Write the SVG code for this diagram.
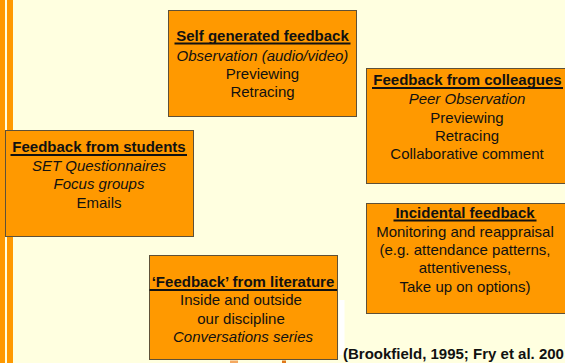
<svg xmlns="http://www.w3.org/2000/svg" width="565" height="363" viewBox="0 0 565 363">
  <style>
    .box { fill: #FF9900; stroke: #5E5138; stroke-width: 1; }
    .bar { fill: #FF9900; }
    text { font-family: "Liberation Sans", Arial, sans-serif; font-size: 15px; fill: #111111; text-anchor: middle; }
    .title { font-weight: bold; }
    .it { font-style: italic; }
    .ul { stroke: #111111; stroke-width: 2; }
    .cite { font-weight: bold; font-size: 15px; text-anchor: start; }
  </style>

  <!-- page background and left margin stripes -->
  <rect x="0" y="0" width="565" height="363" fill="#FFFFE0"/>
  <rect class="bar" x="0" y="0" width="5" height="363"/>
  <rect class="bar" x="7" y="0" width="6" height="363"/>

  <!-- Self generated feedback -->
  <g id="self-generated">
    <rect class="box" x="168.5" y="10.5" width="188" height="106"/>
    <text class="title" x="262.5" y="41">Self generated feedback</text>
    <line class="ul" x1="174.5" y1="43.5" x2="350.5" y2="43.5"/>
    <text class="it" x="262.5" y="60.5">Observation (audio/video)</text>
    <text x="262.5" y="78.8">Previewing</text>
    <text x="262.5" y="97.1">Retracing</text>
  </g>

  <!-- Feedback from colleagues -->
  <g id="colleagues">
    <rect class="box" x="366.5" y="68.5" width="210" height="115"/>
    <text class="title" x="467.5" y="85">Feedback from colleagues</text>
    <line class="ul" x1="372" y1="88" x2="563" y2="88"/>
    <text class="it" x="467" y="104.3">Peer Observation</text>
    <text x="467" y="122.6">Previewing</text>
    <text x="467" y="140.9">Retracing</text>
    <text x="467" y="159.2">Collaborative comment</text>
  </g>

  <!-- Feedback from students -->
  <g id="students">
    <rect class="box" x="5.5" y="130.5" width="188" height="106"/>
    <text class="title" x="99" y="152.3">Feedback from students</text>
    <line class="ul" x1="10.5" y1="155" x2="187" y2="155"/>
    <text class="it" x="99" y="171">SET Questionnaires</text>
    <text class="it" x="99" y="189.3">Focus groups</text>
    <text x="99" y="207.6">Emails</text>
  </g>

  <!-- Incidental feedback -->
  <g id="incidental">
    <rect class="box" x="366.5" y="203.5" width="210" height="110"/>
    <text class="title" x="465" y="217.8">Incidental feedback</text>
    <line class="ul" x1="393.5" y1="220.5" x2="536.5" y2="220.5"/>
    <text x="465" y="236.7">Monitoring and reappraisal</text>
    <text x="465" y="255">(e.g. attendance patterns,</text>
    <text x="465" y="273.3">attentiveness,</text>
    <text x="465" y="291.6">Take up on options)</text>
  </g>

  <!-- 'Feedback' from literature -->
  <g id="literature">
    <rect class="box" x="149.5" y="255.5" width="188" height="104"/>
    <text class="title" x="243" y="287.3">‘Feedback’ from literature</text>
    <line class="ul" x1="149.5" y1="290" x2="337" y2="290"/>
    <text x="241" y="305">Inside and outside</text>
    <text x="241" y="323.5">our discipline</text>
    <text class="it" x="243" y="342">Conversations series</text>
  </g>

  <!-- small fragments below the literature box and white strip beside it -->
  <g id="connectors">
    <rect x="339" y="300" width="5.5" height="55" fill="#FFFFFF"/>
    <rect x="230" y="360.5" width="8" height="2.5" fill="#F4A860"/>
    <rect x="282" y="360.5" width="4" height="2.5" fill="#E07818"/>
  </g>

  <!-- citation -->
  <text class="cite" x="343" y="359">(Brookfield, 1995; Fry et al. 200</text>
</svg>
